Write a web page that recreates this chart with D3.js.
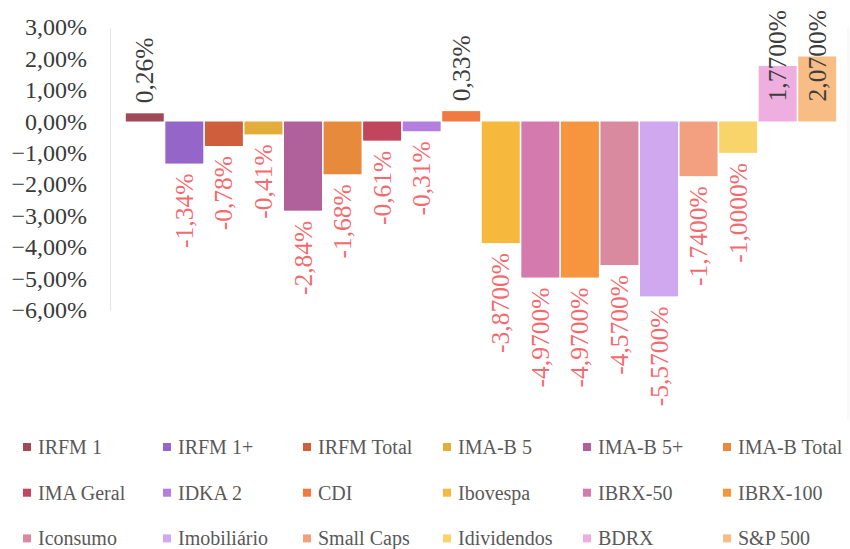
<!DOCTYPE html>
<html>
<head>
<meta charset="utf-8">
<script src="https://cdn.jsdelivr.net/npm/d3@7"></script>
<style>
  html, body { margin: 0; padding: 0; background: #fff; }
  svg { display: block; font-family: "Liberation Serif", "Times New Roman", serif; }
</style>
</head>
<body>
<svg id="chart" width="850" height="549"></svg>
<script>
const categories = ["IRFM 1","IRFM 1+","IRFM Total","IMA-B 5","IMA-B 5+","IMA-B Total",
  "IMA Geral","IDKA 2","CDI","Ibovespa","IBRX-50","IBRX-100",
  "Iconsumo","Imobiliário","Small Caps","Idividendos","BDRX","S&P 500"];
const values = [0.26,-1.34,-0.78,-0.41,-2.84,-1.68,-0.61,-0.31,0.33,
  -3.87,-4.97,-4.97,-4.57,-5.57,-1.74,-1.00,1.77,2.07];
const dataLabels = ["0,26%","-1,34%","-0,78%","-0,41%","-2,84%","-1,68%","-0,61%","-0,31%","0,33%",
  "-3,8700%","-4,9700%","-4,9700%","-4,5700%","-5,5700%","-1,7400%","-1,0000%","1,7700%","2,0700%"];
const colors = ["#9e4a58","#9565c9","#cf5f3c","#e2ad3a","#b0609a","#e88a3c",
  "#c2455e","#b47de0","#f07a42","#f6b93e","#d57aad","#f7953f",
  "#d98a9e","#cfa8f0","#f3a080","#f8d46a","#eeaee0","#f8bd85"];
const yTicks = [3,2,1,0,-1,-2,-3,-4,-5,-6];
const yDomain = [-6, 3];

const svg = d3.select("#chart");
const locale = d3.formatLocale({decimal: ",", thousands: ".", grouping: [3], currency: ["", ""]});
const fmtTick = v => locale.format(".2f")(v) + "%";

const x = d3.scaleBand().domain(categories).range([125, 837]).paddingInner(0.04).paddingOuter(0.02);
const y = d3.scaleLinear().domain(yDomain).range([309.9, 27.3]);

// right faint border
svg.append("line").attr("x1", 848).attr("x2", 848).attr("y1", 27).attr("y2", 420)
  .attr("stroke", "#f0f0f0").attr("stroke-width", 1);

// y axis
const yAxis = d3.axisLeft(y).tickValues(yTicks).tickFormat(fmtTick).tickSize(0).tickSizeOuter(0).tickPadding(23);
const ga = svg.append("g").attr("transform", "translate(110,0)").call(yAxis);
ga.select(".domain").attr("stroke", "#e6e6e6").attr("stroke-width", 1.2);
ga.selectAll(".tick text").attr("font-size", 24).attr("fill", "#3a3a3a")
  .attr("font-family", "'Liberation Serif', serif");

// bars
const data = categories.map((c, i) => ({c, v: values[i], label: dataLabels[i], color: colors[i]}));
svg.append("g").selectAll("rect").data(data).join("rect")
  .attr("x", d => x(d.c))
  .attr("width", x.bandwidth())
  .attr("y", d => Math.min(y(d.v), y(0)))
  .attr("height", d => Math.abs(y(d.v) - y(0)))
  .attr("fill", d => d.color);

// data labels
const lg = svg.append("g");
data.forEach(d => {
  const cx = x(d.c) + x.bandwidth() / 2;
  const t = lg.append("text")
    .attr("font-size", 25.5)
    .attr("dominant-baseline", "central")
    .attr("fill", d.v >= 0 ? "#3c3c3c" : "#f4696e")
    .text(d.label);
  const len = t.node().getComputedTextLength();
  if (d.v >= 0) {
    let bottom = y(d.v) - 10;
    if (bottom - len < 10) bottom = 10 + len;
    t.attr("text-anchor", "start").attr("transform", `translate(${cx},${bottom}) rotate(-90)`);
  } else {
    const top = y(d.v) + 10;
    t.attr("text-anchor", "end").attr("transform", `translate(${cx},${top}) rotate(-90)`);
  }
});

// legend
const leg = svg.append("g");
data.forEach((d, i) => {
  const col = i % 6, row = Math.floor(i / 6);
  const lx = 23 + col * 140, ly = 447 + row * 45.7;
  leg.append("rect").attr("x", lx).attr("y", ly - 4).attr("width", 8).attr("height", 8).attr("fill", d.color);
  leg.append("text").attr("x", lx + 15).attr("y", ly).attr("dominant-baseline", "central")
    .attr("font-size", 20).attr("fill", "#595959").text(d.c);
});
</script>
</body>
</html>
